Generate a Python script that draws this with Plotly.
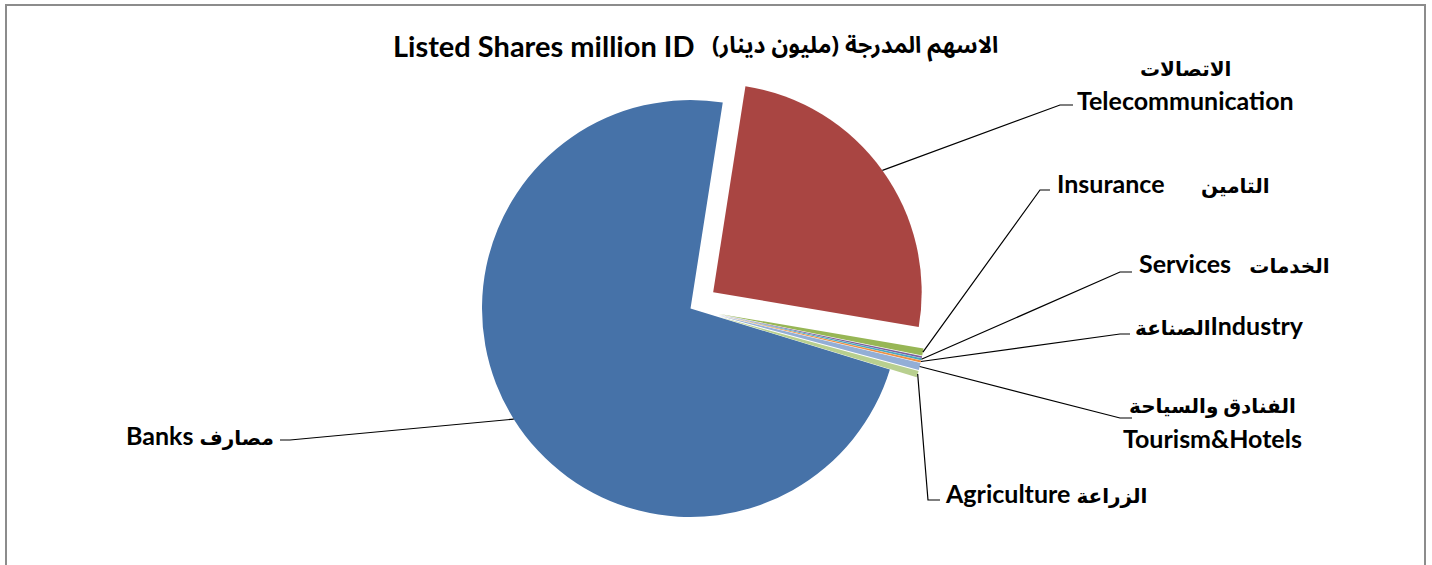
import math
import plotly.graph_objects as go

W, H = 1432, 565

# ---------------- data ----------------
sectors = ["Banks", "Telecommunication", "Insurance", "Investment",
           "Services", "Industry", "Tourism&Hotels", "Agriculture"]
values = [7275, 2520, 55, 15, 15, 15, 55, 50]
colors = ["#4672A8", "#A94542", "#97B655", "#7B5F9E",
          "#48A6C0", "#EE8F42", "#93AED6", "#B8CF8F"]
pulls = [0, 0.134, 0.134, 0.134, 0.134, 0.134, 0.134, 0.134]

AR_FONT = "'Noto Sans Arabic', 'Noto Naskh Arabic', 'DejaVu Sans', sans-serif"


def ar(txt, size):
    return f"<span style='font-size:{size}px;font-family:{AR_FONT}'>{txt}</span>"


title_en = "Listed Shares million ID"
title_ar = "الاسهم المدرجة (مليون دينار)"

# label lines per sector (None = no label shown)
label_lines = {
    "Banks": ["Banks " + ar("مصارف", 20)],
    "Telecommunication": [ar("الاتصالات", 20), "Telecommunication"],
    "Insurance": ["Insurance\u00a0\u00a0\u00a0\u00a0\u00a0\u00a0" + ar("التامين", 20)],
    "Investment": None,
    "Services": ["Services\u00a0\u00a0\u00a0" + ar("الخدمات", 20)],
    "Industry": [ar("الصناعة", 20) + "\u200eIndustry"],
    "Tourism&Hotels": [ar("الفنادق والسياحة", 20), "Tourism&Hotels"],
    "Agriculture": ["Agriculture " + ar("الزراعة", 20)],
}

# ---------------- layout (pixel positions) ----------------
CX, CY, R = 690.5, 308.5, 208.5
ROT = 107
FONT = "Lato, 'DejaVu Sans', sans-serif"

# label anchor x, anchor side, [y per line]
label_pos = {
    "Banks": (276, "right", [435]),
    "Telecommunication": (1185, "center", [68, 100]),
    "Insurance": (1055, "left", [183]),
    "Services": (1137, "left", [263]),
    "Industry": (1133, "left", [325]),
    "Tourism&Hotels": (1212, "center", [405, 438]),
    "Agriculture": (943, "left", [493]),
}
leader = {
    "Banks": [(290, 440), (280, 440)],
    "Telecommunication": [(1060, 105), (1073, 105)],
    "Insurance": [(1040, 190), (1050, 190)],
    "Services": [(1120, 272), (1132, 272)],
    "Industry": [(1120, 334), (1130, 334)],
    "Tourism&Hotels": [(1120, 418), (1132, 418)],
    "Agriculture": [(928, 500), (940, 500)],
}


def px(x):
    return x / W


def py(y):
    return 1 - y / H


maxpull = max(pulls)
half = R * (1 + maxpull)

fig = go.Figure()
fig.add_trace(go.Pie(
    labels=sectors,
    values=values,
    marker=dict(colors=colors, line=dict(width=0)),
    pull=pulls,
    sort=False,
    direction="clockwise",
    rotation=ROT,
    textinfo="none",
    hoverinfo="label+value",
    showlegend=False,
    domain=dict(x=[px(CX - half), px(CX + half)],
                y=[py(CY + half), py(CY - half)]),
))

# leader lines from slice mid points (computed from the data)
total = sum(values)
angle = ROT
shapes = []
annotations = []
for name, v, p in zip(sectors, values, pulls):
    mid = angle + 180.0 * v / total
    angle += 360.0 * v / total
    if label_lines.get(name) is None:
        continue
    rad = math.radians(mid)
    rr = R * (1 + p)
    sx = CX + rr * math.sin(rad)
    sy = CY - rr * math.cos(rad)
    pts = [(sx, sy)] + leader[name]
    path = "M " + " L ".join(f"{px(x):.5f},{py(y):.5f}" for x, y in pts)
    shapes.append(dict(type="path", xref="paper", yref="paper", path=path,
                       line=dict(color="black", width=1.2)))
    lx, anchor, lys = label_pos[name]
    for txt, ly in zip(label_lines[name], lys):
        annotations.append(dict(
            x=px(lx), y=py(ly), xref="paper", yref="paper",
            text=txt, showarrow=False, xanchor=anchor, yanchor="middle",
            font=dict(family=FONT, size=25, color="black", weight="bold"),
        ))

# title (English part on the left, Arabic part on the right)
annotations.append(dict(
    x=px(696), y=py(45), xref="paper", yref="paper", text=title_en,
    showarrow=False, xanchor="right", yanchor="middle",
    font=dict(family=FONT, size=29, color="black", weight="bold"),
))
annotations.append(dict(
    x=px(710), y=py(46), xref="paper", yref="paper", text=title_ar,
    showarrow=False, xanchor="left", yanchor="middle",
    font=dict(family=AR_FONT, size=23, color="black", weight="bold"),
))

# chart border
shapes.append(dict(type="rect", xref="paper", yref="paper",
                   x0=px(6), x1=px(1425), y0=py(575), y1=py(5),
                   line=dict(color="#8C8C8C", width=2)))

fig.update_layout(
    width=W, height=H,
    margin=dict(l=0, r=0, t=0, b=0),
    paper_bgcolor="white",
    plot_bgcolor="white",
    shapes=shapes,
    annotations=annotations,
)

fig.write_html("out.html", config={"displayModeBar": False},
               post_script="document.body.style.margin='0';")
